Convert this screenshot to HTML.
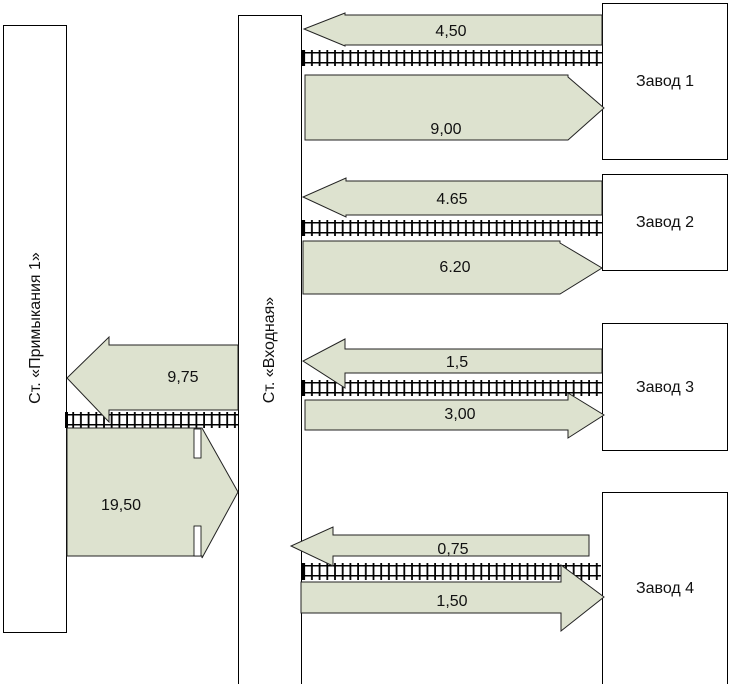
<!DOCTYPE html>
<html><head><meta charset="utf-8"><style>
html,body{margin:0;padding:0;background:#fff;}
svg{display:block;}
text{font-family:"Liberation Sans",sans-serif;font-size:16px;fill:#111;}
</style></head><body>
<svg width="731" height="684" viewBox="0 0 731 684" xmlns="http://www.w3.org/2000/svg">
<defs>
<pattern id="ties" x="0" y="0" width="7.7" height="20" patternUnits="userSpaceOnUse">
<rect x="3" y="0" width="1.8" height="20" fill="#000"/>
</pattern>
</defs>
<g stroke="#000" stroke-width="1" fill="#fff">
<rect x="3.5" y="25.5" width="63" height="607"/>
<rect x="238.5" y="15.5" width="63" height="675"/>
<rect x="602.5" y="3.5" width="125" height="156"/>
<rect x="602.5" y="174.5" width="125" height="96"/>
<rect x="602.5" y="323.5" width="125" height="127"/>
<rect x="602.5" y="492.5" width="125" height="200"/>
</g>
<g>
<rect x="302" y="50" width="300" height="16" fill="url(#ties)"/>
<rect x="302" y="52" width="300" height="1.5" fill="#000"/><rect x="302" y="62" width="300" height="1.5" fill="#000"/>
<rect x="302" y="50" width="3" height="16" fill="#000"/>
<rect x="302" y="220" width="300" height="16" fill="url(#ties)"/>
<rect x="302" y="222" width="300" height="1.5" fill="#000"/><rect x="302" y="232" width="300" height="1.5" fill="#000"/>
<rect x="302" y="220" width="3" height="16" fill="#000"/>
<rect x="302" y="380" width="300" height="16" fill="url(#ties)"/>
<rect x="302" y="382" width="300" height="1.5" fill="#000"/><rect x="302" y="392" width="300" height="1.5" fill="#000"/>
<rect x="302" y="380" width="3" height="16" fill="#000"/>
<rect x="301" y="563" width="300" height="17" fill="url(#ties)"/>
<rect x="301" y="565" width="300" height="1.5" fill="#000"/><rect x="301" y="575" width="300" height="1.5" fill="#000"/>
<rect x="301" y="563" width="3" height="17" fill="#000"/>
<rect x="66" y="412" width="172" height="16" fill="url(#ties)"/>
<rect x="66" y="414" width="172" height="1.5" fill="#000"/><rect x="66" y="424" width="172" height="1.5" fill="#000"/>
<rect x="65" y="412" width="3" height="16" fill="#000"/>
</g>
<g fill="#dde2cf" stroke="#222" stroke-width="1">
<polygon points="602,15 345,15 345,13 304,29 345,46 345,45 602,45"/>
<polygon points="305,75 568,75 568,77 604,108 568,140 305,140"/>
<polygon points="602,181 346,181 346,178 303,197 346,217 346,215 602,215"/>
<polygon points="303,241 560,241 560,243 602,268 560,294 303,294"/>
<polygon points="602,349 345,349 345,339 303,361 345,388 345,373 602,373"/>
<polygon points="305,400 568,400 568,393 604,415 568,438 568,430 305,430"/>
<polygon points="589,535 333,535 333,527 291,546 333,566 333,556 589,556"/>
<polygon points="301,582 561,582 561,565 604,597 561,631 561,613 301,613"/>
<polygon points="238,345 109,345 109,337 67,378 109,422 109,410 238,410"/>
<polygon points="67,428 202,428 202,428 238,492 202,558 202,556 67,556"/>
</g>
<g fill="#fff">
<rect x="194" y="429" width="7" height="29" stroke="#000" stroke-width="0.8"/>
<rect x="194" y="526" width="7" height="30" stroke="#000" stroke-width="0.8"/>
</g>
<g text-anchor="middle">
<text x="451" y="36">4,50</text>
<text x="446" y="134">9,00</text>
<text x="452" y="204">4.65</text>
<text x="455" y="272">6.20</text>
<text x="457" y="367">1,5</text>
<text x="460" y="419">3,00</text>
<text x="453" y="554">0,75</text>
<text x="452" y="606">1,50</text>
<text x="183" y="382">9,75</text>
<text x="121" y="510">19,50</text>
<text x="665" y="86">Завод 1</text>
<text x="665" y="227">Завод 2</text>
<text x="665" y="392">Завод 3</text>
<text x="665" y="593">Завод 4</text>
<text transform="translate(40,328) rotate(-90)">Ст. «Примыкания 1»</text>
<text transform="translate(274,350) rotate(-90)">Ст. «Входная»</text>
</g>
</svg>
</body></html>
